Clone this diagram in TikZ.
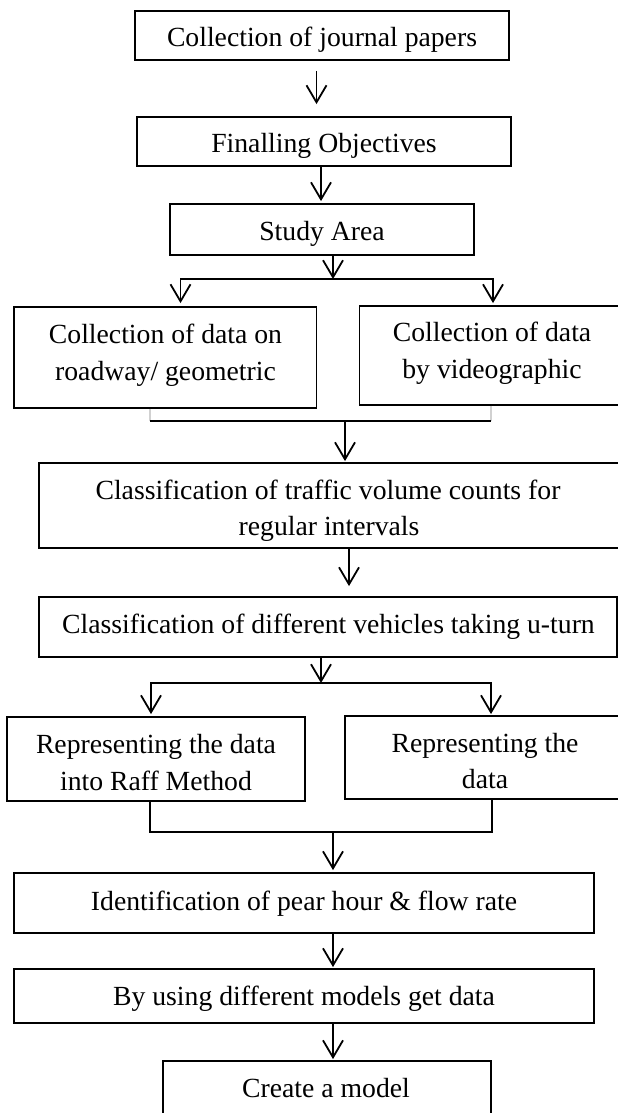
\documentclass[tikz,border=0pt]{standalone}
\usepackage{fontspec}
\setmainfont{Liberation Serif}
\usetikzlibrary{arrows.meta}
\begin{document}
\begin{tikzpicture}[x=1pt,y=-1pt,
  box/.style={draw=black, line width=1.8pt, inner sep=0pt, rectangle},
  txt/.style={anchor=base, inner sep=0pt, font=\fontsize{27.7pt}{33pt}\selectfont},
  conn/.style={draw=black, line width=1.8pt},
  arr/.style={conn, -{Straight Barb[length=17pt,width=20pt]}},
  faint/.style={line width=1.8pt, draw=black!18}]
\useasboundingbox (0,0) rectangle (618,1113);
\clip (0,0) rectangle (618,1113);
\fill[white] (0,0) rectangle (618,1113);

% boxes
\node[box, minimum width=374pt, minimum height=49pt] (b1) at (322,35.5) {};
\node[box, minimum width=374pt, minimum height=49pt] (b2) at (324,141.5) {};
\node[box, minimum width=304pt, minimum height=51pt] (b3) at (322,229.5) {};
\node[box, minimum width=302.5pt, minimum height=101pt] (b4) at (165.25,357.5) {};
\node[box, minimum width=264.5pt, minimum height=99pt] (b5) at (491.75,355.5) {};
\node[box, minimum width=582pt, minimum height=85pt] (b6) at (330,505.5) {};
\node[box, minimum width=578pt, minimum height=60pt] (b7) at (328,627) {};
\node[box, minimum width=298pt, minimum height=84pt] (b8) at (156,759) {};
\node[box, minimum width=280pt, minimum height=83pt] (b9) at (485,757.5) {};
\node[box, minimum width=580pt, minimum height=60pt] (b10) at (304,903) {};
\node[box, minimum width=580pt, minimum height=54pt] (b11) at (304,996) {};
\node[box, minimum width=328pt, minimum height=69pt] (b12) at (327,1095.5) {};

% texts
\node[txt] (t1) at (322,47) {Collection of journal papers};
\node[txt] (t2) at (324,153) {Finalling Objectives};
\node[txt] (t3) at (322,240) {Study Area};
\node[txt] (t4a) at (165.5,343) {Collection of data on};
\node[txt] (t4b) at (165.5,380) {roadway/ geometric};
\node[txt] (t5a) at (492,341) {Collection of data};
\node[txt] (t5b) at (492,378) {by videographic};
\node[txt] (t6a) at (328,499) {Classification of traffic volume counts for};
\node[txt] (t6b) at (329,535) {regular intervals};
\node[txt] (t7) at (328.5,633) {Classification of different vehicles taking u-turn};
\node[txt] (t8a) at (156,753) {Representing the data};
\node[txt] (t8b) at (156,790) {into Raff Method};
\node[txt] (t9a) at (485,752) {Representing the};
\node[txt] (t9b) at (485,788) {data};
\node[txt] (t10) at (304,910) {Identification of pear hour \& flow rate};
\node[txt] (t11) at (304,1005) {By using different models get data};
\node[txt] (t12) at (326,1097) {Create a model};

% junction points
\coordinate (j1) at (333,279);
\coordinate (j1L) at (180.5,279);
\coordinate (j1R) at (493,279);
\coordinate (j2) at (345,421);
\coordinate (j2L) at (150,421);
\coordinate (j2R) at (491,421);
\coordinate (j3) at (321,683);
\coordinate (j3L) at (151,683);
\coordinate (j3R) at (491,683);
\coordinate (j4) at (333,832);
\coordinate (j4L) at (150,832);
\coordinate (j4R) at (492,832);

% connectors
\draw[arr] ([xshift=-5.5pt,yshift=-10pt]b1.south) -- ([xshift=-7.5pt,yshift=12pt]b2.north);
\draw[arr] ([xshift=-3pt]b2.south) -- ([xshift=-1pt,yshift=2pt]b3.north);
\draw[arr] ([xshift=11pt]b3.south) -- (j1);
\draw[conn, line cap=rect] (j1L) -- (j1R);
\draw[arr] (j1L) -- ([yshift=3pt]j1L |- b4.north);
\draw[arr] (j1R) -- ([yshift=2pt]j1R |- b5.north);

\draw[faint] ([xshift=-15.25pt]b4.south) -- (j2L);
\draw[faint] ([xshift=-0.75pt]b5.south) -- (j2R);
\draw[conn] (j2L) -- (j2R);
\draw[arr] (j2) -- ([xshift=15pt,yshift=1pt]b6.north);

\draw[arr] ([xshift=19pt]b6.south) -- ([xshift=21pt,yshift=10pt]b7.north);

\draw[arr] ([xshift=-7pt]b7.south) -- (j3);
\draw[conn, line cap=rect] (j3L) -- (j3R);
\draw[arr] (j3L) -- ([yshift=2pt]j3L |- b8.north);
\draw[arr] (j3R) -- ([yshift=1pt]j3R |- b9.north);

\draw[conn] ([xshift=-6pt]b8.south) -- (j4L) -- (j4R) -- ([xshift=7pt]b9.south);
\draw[arr] (j4) -- ([xshift=29pt,yshift=2pt]b10.north);
\draw[arr] ([xshift=29pt]b10.south) -- ([xshift=29pt,yshift=1pt]b11.north);
\draw[arr] ([xshift=29pt]b11.south) -- ([xshift=6pt,yshift=1pt]b12.north);
\end{tikzpicture}
\end{document}
